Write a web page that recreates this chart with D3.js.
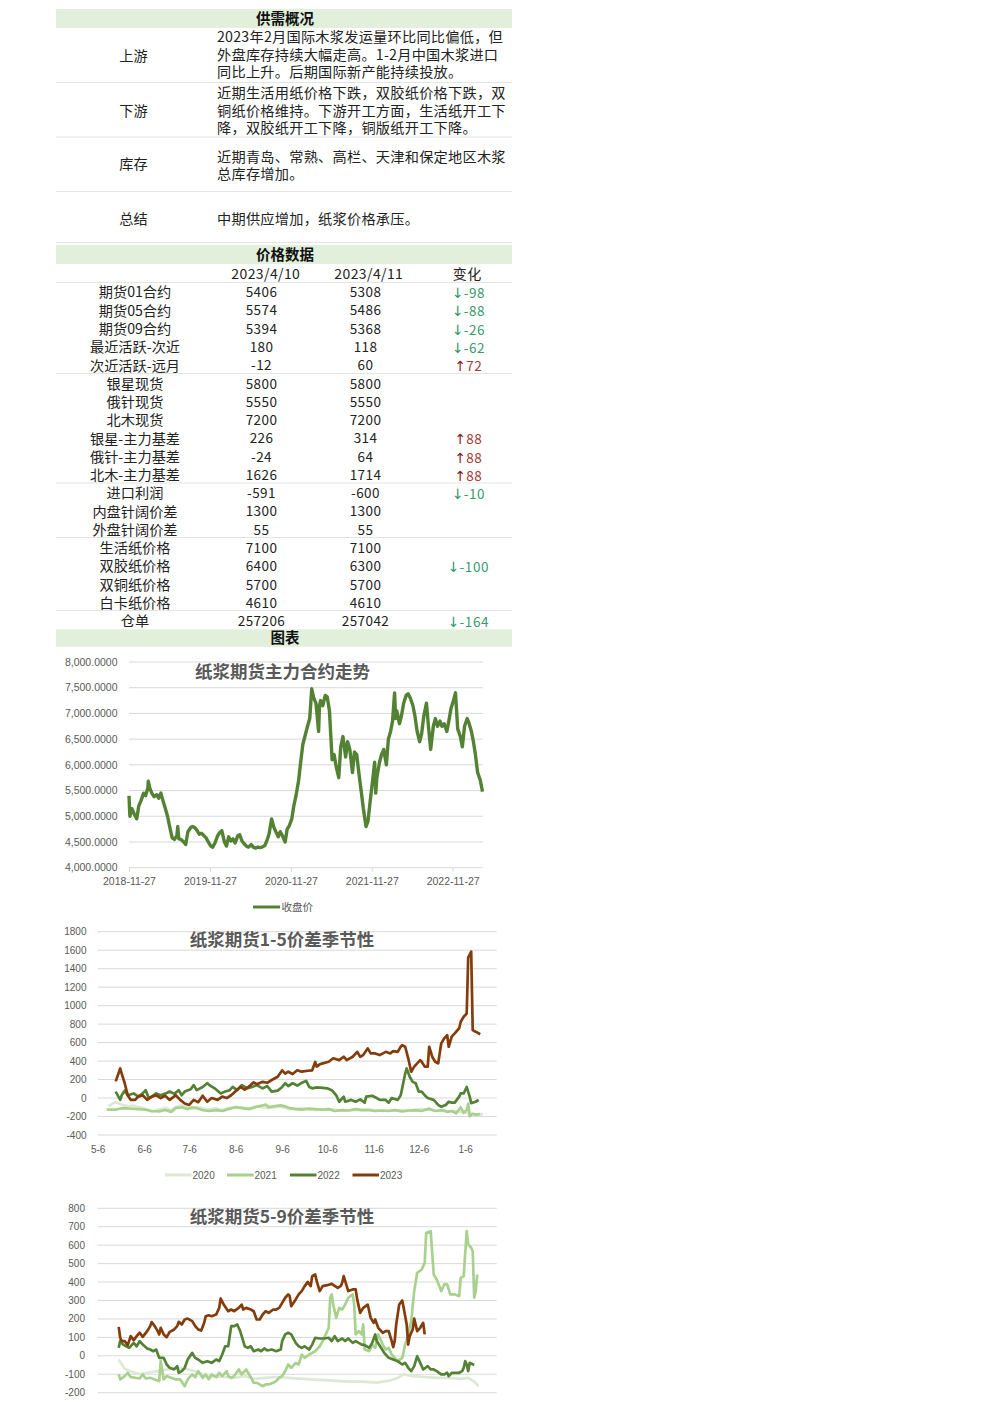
<!DOCTYPE html>
<html><head><meta charset="utf-8">
<script src="https://cdn.jsdelivr.net/npm/d3@7"></script>
<style>body{margin:0;background:#fff}svg{display:block}</style>
</head><body>
<script>
// ---------- DATA ----------
const supplyLabels = ["上游","下游","库存","总结"];
const supplyTexts = [
  ["2023年2月国际木浆发运量环比同比偏低，但","外盘库存持续大幅走高。1-2月中国木浆进口","同比上升。后期国际新产能持续投放。"],
  ["近期生活用纸价格下跌，双胶纸价格下跌，双","铜纸价格维持。下游开工方面，生活纸开工下","降，双胶纸开工下降，铜版纸开工下降。"],
  ["近期青岛、常熟、高栏、天津和保定地区木浆","总库存增加。"],
  ["中期供应增加，纸浆价格承压。"]
];
const priceHeaders = ["2023/4/10","2023/4/11","变化"];
const priceLabels = ["期货01合约","期货05合约","期货09合约","最近活跃-次近","次近活跃-远月","银星现货","俄针现货","北木现货","银星-主力基差","俄针-主力基差","北木-主力基差","进口利润","内盘针阔价差","外盘针阔价差","生活纸价格","双胶纸价格","双铜纸价格","白卡纸价格","仓单"];
const priceDay1 = [5406,5574,5394,180,-12,5800,5550,7200,226,-24,1626,-591,1300,55,7100,6400,5700,4610,257206];
const priceDay2 = [5308,5486,5368,118,60,5800,5550,7200,314,64,1714,-600,1300,55,7100,6300,5700,4610,257042];
const priceChange = [-98,-88,-26,-62,72,null,null,null,88,88,88,-10,null,null,null,-100,null,null,-164];

const mainTitle = "纸浆期货主力合约走势";
const mainLegend = "收盘价";
const mainTicks = ["2018-11-27","2019-11-27","2020-11-27","2021-11-27","2022-11-27"];
const mainSeries = [
["2018-11-27",5400],["2018-12-01",5000],["2018-12-10",5150],["2018-12-20",5050],["2019-01-01",4950],["2019-01-10",5200],["2019-01-20",5300],["2019-02-01",5450],["2019-02-10",5400],["2019-02-20",5550],["2019-02-22",5680],["2019-03-01",5550],["2019-03-10",5450],["2019-03-20",5380],["2019-04-01",5420],["2019-04-10",5350],["2019-04-20",5450],["2019-05-01",5280],["2019-05-10",5150],["2019-05-20",5000],["2019-06-01",4750],["2019-06-10",4580],["2019-06-20",4550],["2019-07-01",4620],["2019-07-05",4800],["2019-07-10",4560],["2019-07-20",4550],["2019-08-01",4500],["2019-08-10",4450],["2019-08-20",4700],["2019-09-01",4780],["2019-09-10",4800],["2019-09-20",4780],["2019-10-01",4720],["2019-10-10",4650],["2019-10-20",4670],["2019-11-01",4620],["2019-11-10",4580],["2019-11-20",4500],["2019-12-01",4420],["2019-12-10",4400],["2019-12-20",4480],["2020-01-01",4620],["2020-01-10",4680],["2020-01-20",4720],["2020-02-01",4500],["2020-02-10",4420],["2020-02-20",4600],["2020-03-01",4520],["2020-03-10",4560],["2020-03-20",4480],["2020-04-01",4620],["2020-04-10",4640],["2020-04-20",4520],["2020-05-01",4460],["2020-05-10",4420],["2020-05-20",4400],["2020-06-01",4450],["2020-06-10",4400],["2020-06-20",4380],["2020-07-01",4400],["2020-07-10",4390],["2020-07-20",4400],["2020-08-01",4430],["2020-08-10",4520],["2020-08-20",4650],["2020-09-01",4950],["2020-09-10",4800],["2020-09-20",4700],["2020-10-01",4600],["2020-10-10",4700],["2020-10-20",4620],["2020-11-01",4500],["2020-11-10",4750],["2020-11-20",4820],["2020-12-01",4950],["2020-12-10",5200],["2020-12-20",5400],["2021-01-01",5700],["2021-01-10",6050],["2021-01-20",6400],["2021-02-01",6600],["2021-02-10",6750],["2021-02-20",6900],["2021-03-01",7480],["2021-03-05",7400],["2021-03-10",7300],["2021-03-20",7200],["2021-04-01",6650],["2021-04-05",7150],["2021-04-10",7250],["2021-04-20",7150],["2021-05-01",7350],["2021-05-10",7320],["2021-05-20",7050],["2021-06-01",6100],["2021-06-10",6200],["2021-06-20",5950],["2021-07-01",5750],["2021-07-10",6350],["2021-07-20",6550],["2021-08-01",6150],["2021-08-10",6450],["2021-08-20",6300],["2021-09-01",5850],["2021-09-10",6250],["2021-09-20",6200],["2021-10-01",5800],["2021-10-10",5500],["2021-10-20",5150],["2021-11-01",4800],["2021-11-10",4900],["2021-11-20",5300],["2021-12-01",5700],["2021-12-10",6050],["2021-12-15",5450],["2021-12-20",5750],["2022-01-01",6050],["2022-01-10",6200],["2022-01-20",6300],["2022-02-01",6000],["2022-02-10",6500],["2022-02-20",6650],["2022-03-01",6850],["2022-03-10",7400],["2022-03-15",6900],["2022-03-20",7050],["2022-04-01",6800],["2022-04-10",6950],["2022-04-20",7200],["2022-05-01",7350],["2022-05-10",7380],["2022-05-20",7300],["2022-06-01",7150],["2022-06-10",6950],["2022-06-20",6650],["2022-07-01",6450],["2022-07-10",6600],["2022-07-20",6950],["2022-08-01",7200],["2022-08-10",6750],["2022-08-20",6300],["2022-09-01",6750],["2022-09-10",6900],["2022-09-20",6750],["2022-10-01",6850],["2022-10-10",6750],["2022-10-20",6800],["2022-11-01",6650],["2022-11-10",6850],["2022-11-20",7100],["2022-12-01",7250],["2022-12-10",7400],["2022-12-20",6700],["2023-01-01",6550],["2023-01-10",6350],["2023-01-20",6750],["2023-02-01",6900],["2023-02-10",6800],["2023-02-20",6650],["2023-03-01",6450],["2023-03-10",6200],["2023-03-20",5850],["2023-04-01",5700],["2023-04-11",5480]
];

const seasonYears = ["2020","2021","2022","2023"];
const seasonTicks = ["05-06","06-06","07-06","08-06","09-06","10-06","11-06","12-06","01-06"];
const spreadTitle15 = "纸浆期货1-5价差季节性";
const spreadTitle59 = "纸浆期货5-9价差季节性";

const s15_2020 = [["05-13",-90],["05-16",-60],["05-18",-45],["05-22",-70],["05-26",-90],["05-30",-80],["06-03",-100],["06-07",-120],["06-11",-150],["06-16",-125],["06-20",-105],["06-24",-130],["06-27",-95],["07-01",-80],["07-05",-100],["07-08",-120],["07-11",-95],["07-15",-110],["07-19",-125],["07-24",-110],["07-28",-130],["08-01",-110],["08-06",-95],["08-10",-100],["08-15",-115],["08-19",-90],["08-24",-100],["08-28",-110],["08-31",-100],["09-05",-95],["09-11",-120],["09-19",-110],["09-28",-130],["10-07",-120],["10-16",-135],["10-25",-130],["11-03",-125],["11-12",-140],["11-20",-130],["11-29",-140],["12-08",-120],["12-17",-135],["12-25",-140],["01-03",-150],["01-09",-165],["01-13",-180],["01-18",-175]];
const s15_2021 = [["05-12",-125],["05-18",-125],["05-22",-110],["05-28",-115],["06-02",-120],["06-07",-125],["06-11",-140],["06-16",-145],["06-20",-130],["06-24",-150],["06-27",-110],["07-01",-100],["07-05",-120],["07-08",-100],["07-11",-110],["07-15",-130],["07-19",-140],["07-24",-130],["07-28",-140],["08-01",-120],["08-06",-100],["08-10",-110],["08-15",-120],["08-19",-100],["08-24",-80],["08-26",-70],["08-28",-100],["08-31",-90],["09-05",-80],["09-08",-90],["09-11",-110],["09-15",-120],["09-19",-125],["09-24",-115],["09-28",-120],["10-03",-125],["10-07",-120],["10-11",-140],["10-16",-130],["10-20",-135],["10-25",-120],["10-29",-130],["11-03",-130],["11-07",-140],["11-12",-135],["11-16",-140],["11-20",-130],["11-25",-145],["11-29",-135],["12-04",-130],["12-08",-140],["12-13",-115],["12-17",-140],["12-22",-130],["12-25",-150],["12-28",-140],["12-31",-165],["01-03",-100],["01-05",-160],["01-07",-130],["01-08",-60],["01-09",-195],["01-11",-170],["01-13",-180],["01-16",-175]];
const s15_2022 = [["05-18",70],["05-21",-20],["05-22",30],["05-24",80],["05-26",30],["05-30",50],["06-02",15],["06-05",50],["06-07",85],["06-09",0],["06-11",15],["06-14",50],["06-17",30],["06-21",55],["06-23",70],["06-26",45],["06-29",85],["07-01",30],["07-03",70],["07-07",95],["07-09",140],["07-11",85],["07-15",120],["07-18",160],["07-20",135],["07-23",105],["07-27",50],["07-30",70],["08-02",85],["08-04",120],["08-07",85],["08-10",140],["08-14",105],["08-17",120],["08-20",140],["08-24",105],["08-27",130],["08-30",70],["09-03",80],["09-06",120],["09-08",160],["09-10",130],["09-13",160],["09-16",135],["09-19",165],["09-22",185],["09-24",120],["09-26",105],["09-29",115],["10-03",110],["10-06",105],["10-09",85],["10-12",30],["10-14",-40],["10-17",15],["10-18",-40],["10-22",-20],["10-25",-40],["10-28",-15],["10-31",-50],["11-01",15],["11-05",25],["11-08",0],["11-10",-20],["11-14",-20],["11-16",-50],["11-18",0],["11-22",-20],["11-24",30],["11-25",105],["11-27",265],["11-28",320],["11-30",230],["12-02",175],["12-04",160],["12-06",70],["12-08",70],["12-10",30],["12-12",0],["12-16",-20],["12-19",-75],["12-21",-95],["12-24",-75],["12-26",-40],["12-28",-50],["12-30",-50],["01-02",15],["01-03",50],["01-05",50],["01-07",120],["01-09",15],["01-10",-55],["01-13",-40],["01-15",-20]];
const s15_2023 = [["05-18",180],["05-21",320],["05-22",265],["05-24",160],["05-26",30],["05-28",-20],["05-31",-20],["06-02",15],["06-05",30],["06-08",-20],["06-11",15],["06-14",30],["06-17",0],["06-20",25],["06-23",-20],["06-27",30],["06-30",-20],["07-03",-60],["07-06",-75],["07-09",-20],["07-12",-45],["07-15",25],["07-18",-40],["07-21",0],["07-25",-20],["07-28",15],["07-31",0],["08-03",30],["08-07",90],["08-09",120],["08-12",90],["08-16",140],["08-18",170],["08-20",150],["08-24",175],["08-27",165],["08-30",195],["09-03",230],["09-06",300],["09-08",265],["09-10",285],["09-13",260],["09-16",300],["09-19",285],["09-23",295],["09-26",300],["09-28",390],["09-29",340],["10-01",365],["10-03",375],["10-07",393],["10-10",430],["10-14",410],["10-17",447],["10-19",410],["10-23",447],["10-26",500],["10-28",447],["10-30",465],["11-02",537],["11-04",483],["11-07",483],["11-10",465],["11-14",500],["11-17",483],["11-19",508],["11-22",500],["11-24",555],["11-25",573],["11-27",555],["11-29",430],["12-01",285],["12-03",340],["12-05",375],["12-07",410],["12-08",393],["12-10",340],["12-12",340],["12-13",555],["12-15",447],["12-17",393],["12-19",375],["12-21",590],["12-23",645],["12-25",680],["12-26",555],["12-28",665],["12-30",700],["01-02",755],["01-03",825],["01-05",880],["01-07",915],["01-08",1520],["01-10",1585],["01-11",735],["01-13",718],["01-16",690]];

const s59_2020 = [["05-20",-20],["05-24",-70],["05-28",-85],["06-03",-100],["06-10",-90],["06-17",-80],["06-24",-70],["07-01",-65],["07-08",-80],["07-15",-100],["07-22",-110],["07-29",-115],["08-05",-120],["08-12",-110],["08-19",-125],["08-26",-120],["09-02",-115],["09-10",-120],["09-20",-125],["09-30",-130],["10-10",-135],["10-20",-140],["10-30",-140],["11-08",-145],["11-16",-135],["11-22",-120],["11-26",-100],["12-02",-110],["12-10",-115],["12-18",-120],["12-26",-120],["01-03",-125],["01-08",-120],["01-12",-140],["01-15",-165]];
const s59_2021 = [["05-20",-101],["05-21",-128],["05-24",-110],["05-26",-92],["05-28",-116],["05-31",-119],["06-03",-123],["06-05",-101],["06-07",-123],["06-10",-119],["06-13",-128],["06-16",-137],["06-17",-29],["06-19",-128],["06-21",-110],["06-23",-116],["06-27",-128],["06-30",-128],["07-03",-165],["07-05",-128],["07-08",-101],["07-10",-116],["07-12",-83],["07-15",-119],["07-17",-101],["07-19",-128],["07-21",-101],["07-24",-116],["07-26",-92],["07-28",-110],["07-31",-83],["08-01",-110],["08-03",-119],["08-05",-110],["08-08",-74],["08-10",-101],["08-13",-74],["08-16",-116],["08-18",-146],["08-20",-146],["08-22",-155],["08-24",-165],["08-26",-155],["08-28",-155],["08-31",-146],["09-02",-137],["09-04",-119],["09-06",-110],["09-08",-83],["09-10",-47],["09-12",-65],["09-15",-38],["09-17",-47],["09-19",7],["09-21",-11],["09-24",7],["09-26",16],["09-28",25],["10-01",52],["10-03",80],["10-05",116],["10-07",152],["10-08",315],["10-09",333],["10-10",278],["10-12",206],["10-14",260],["10-16",251],["10-18",278],["10-20",315],["10-23",333],["10-24",278],["10-25",116],["10-27",134],["10-29",116],["10-30",170],["10-31",34],["11-03",25],["11-05",61],["11-07",43],["11-09",116],["11-12",61],["11-14",34],["11-16",43],["11-18",7],["11-20",-11],["11-22",-29],["11-25",-11],["11-27",61],["11-29",116],["12-01",188],["12-03",351],["12-05",450],["12-08",468],["12-10",504],["12-11",667],["12-14",676],["12-16",441],["12-18",414],["12-21",351],["12-23",387],["12-25",387],["12-27",333],["12-30",333],["01-02",324],["01-03",423],["01-05",432],["01-07",676],["01-08",604],["01-10",586],["01-11",568],["01-12",315],["01-13",351],["01-14",441]];
const s59_2022 = [["05-20",43],["05-21",80],["05-23",61],["05-25",52],["05-27",43],["05-30",70],["06-01",52],["06-03",80],["06-05",61],["06-08",40],["06-10",34],["06-12",25],["06-14",34],["06-16",-11],["06-19",-11],["06-21",-47],["06-23",-65],["06-26",-74],["06-28",-56],["06-29",-92],["07-01",-83],["07-03",-65],["07-05",-20],["07-08",16],["07-10",-11],["07-12",-20],["07-15",-38],["07-18",-29],["07-21",-38],["07-24",-20],["07-26",-29],["07-28",7],["07-30",52],["08-01",52],["08-03",161],["08-05",161],["08-07",170],["08-09",134],["08-12",52],["08-14",43],["08-16",52],["08-18",25],["08-21",34],["08-23",25],["08-25",40],["08-27",29],["08-30",34],["09-02",25],["09-05",34],["09-06",80],["09-08",116],["09-10",125],["09-12",116],["09-15",70],["09-17",52],["09-19",43],["09-21",52],["09-24",34],["09-26",61],["09-28",98],["10-01",94],["10-04",94],["10-07",98],["10-09",80],["10-11",107],["10-13",80],["10-16",94],["10-18",80],["10-20",94],["10-23",70],["10-25",80],["10-27",70],["10-29",61],["10-31",58],["11-03",43],["11-05",70],["11-07",116],["11-08",80],["11-11",43],["11-13",16],["11-16",-11],["11-19",-20],["11-22",-29],["11-25",-47],["11-27",-38],["11-29",-65],["12-01",-83],["12-03",-56],["12-05",-2],["12-07",-38],["12-09",-74],["12-12",-56],["12-14",-74],["12-16",-74],["12-18",-83],["12-21",-101],["12-23",-101],["12-25",-92],["12-26",-110],["12-28",-92],["12-30",-92],["01-02",-92],["01-04",-83],["01-05",-65],["01-06",-29],["01-07",-47],["01-08",-83],["01-09",-38],["01-12",-50]];
const s59_2023 = [["05-20",157],["05-21",98],["05-22",80],["05-24",80],["05-26",58],["05-28",107],["05-30",85],["06-01",107],["06-03",125],["06-05",103],["06-08",134],["06-10",161],["06-11",183],["06-13",161],["06-15",134],["06-16",116],["06-17",152],["06-19",116],["06-21",101],["06-23",130],["06-26",143],["06-28",161],["06-29",184],["07-01",170],["07-03",197],["07-05",202],["07-08",188],["07-10",161],["07-12",143],["07-14",137],["07-16",179],["07-17",215],["07-19",220],["07-21",215],["07-24",224],["07-26",260],["07-27",311],["07-29",278],["08-01",242],["08-03",251],["08-05",242],["08-08",260],["08-10",278],["08-11",251],["08-13",260],["08-16",251],["08-18",242],["08-20",197],["08-22",197],["08-24",224],["08-26",242],["08-28",233],["08-31",251],["09-02",251],["09-04",260],["09-06",287],["09-08",315],["09-10",333],["09-11",324],["09-12",269],["09-15",306],["09-17",333],["09-19",351],["09-21",378],["09-23",401],["09-25",378],["09-26",432],["09-28",441],["09-29",405],["10-01",351],["10-03",378],["10-06",383],["10-09",390],["10-13",369],["10-15",378],["10-16",396],["10-17",432],["10-19",378],["10-20",351],["10-23",360],["10-25",360],["10-26",306],["10-28",233],["10-30",260],["11-02",278],["11-04",206],["11-06",179],["11-07",197],["11-09",152],["11-12",125],["11-14",134],["11-16",134],["11-18",80],["11-19",47],["11-20",80],["11-21",170],["11-23",278],["11-25",300],["11-26",260],["11-28",170],["11-29",61],["11-30",107],["12-02",143],["12-03",202],["12-05",134],["12-07",152],["12-09",179],["12-10",116]];

// ---------- STYLE ----------
const CJK = "'Noto Sans CJK SC','Noto Sans',sans-serif";
const NUM = "'Liberation Sans',Arial,sans-serif";
const barFill = "#e2efda";
const sepColor = "#e4e4e4";
const gridColor = "#d9d9d9";
const axisText = "#595959";
const seasonColors = {"2020":"#dde9d4","2021":"#a9d18e","2022":"#548235","2023":"#843c0c"};

const svg = d3.select("body").append("svg").attr("width",992).attr("height",1403);
svg.append("rect").attr("width",992).attr("height",1403).attr("fill","#fff");

const L = 56, R = 512;
function bar(y,h,label){
  svg.append("rect").attr("x",L).attr("y",y).attr("width",R-L).attr("height",h).attr("fill",barFill);
  svg.append("text").attr("x",285).attr("y",y+h/2).attr("dy","0.36em").attr("text-anchor","middle")
    .attr("font-family",CJK).attr("font-weight","bold").attr("font-size",14.5).attr("fill","#111").text(label);
}
function sep(y){ svg.append("line").attr("x1",L).attr("x2",R).attr("y1",y).attr("y2",y).attr("stroke",sepColor).attr("stroke-width",1); }

// ---------- SUPPLY TABLE ----------
bar(9,19,"供需概况");
const supplyLabelY = [56,111,164.3,219.3];
const supplyFirstLineY = [37.3,93.3,156.7,219.3];
supplyLabels.forEach((lab,i)=>{
  svg.append("text").attr("x",133.5).attr("y",supplyLabelY[i]).attr("dy","0.36em").attr("text-anchor","middle")
    .attr("font-family",CJK).attr("font-size",14.2).attr("fill","#222").text(lab);
  supplyTexts[i].forEach((ln,j)=>{
    svg.append("text").attr("x",217).attr("y",supplyFirstLineY[i]+j*17.2).attr("dy","0.36em")
      .attr("font-family",CJK).attr("font-size",14.2).attr("letter-spacing",0.25).attr("fill","#222").text(ln);
  });
});
[82.5,137,191.5,242.5].forEach(sep);

// ---------- PRICE TABLE ----------
bar(245,19,"价格数据");
const headX = [265.8,368.8,467.2];
priceHeaders.forEach((h,i)=>{
  svg.append("text").attr("x",headX[i]).attr("y",274.3).attr("dy","0.36em").attr("text-anchor","middle")
    .attr("font-family",CJK).attr("font-size",14).attr("letter-spacing",0.4).attr("fill","#222").text(h);
});
sep(282.5);
const rowY = d3.scaleLinear().domain([0,18]).range([292.3,621.2]);
priceLabels.forEach((lab,i)=>{
  const y = rowY(i);
  svg.append("text").attr("x",135).attr("y",y).attr("dy","0.36em").attr("text-anchor","middle")
    .attr("font-family",CJK).attr("font-size",14.2).attr("fill","#222").text(lab);
  svg.append("text").attr("x",261.5).attr("y",y).attr("dy","0.36em").attr("text-anchor","middle")
    .attr("font-family",CJK).attr("font-size",13.5).attr("letter-spacing",0.4).attr("fill","#222").text(priceDay1[i]);
  svg.append("text").attr("x",365.5).attr("y",y).attr("dy","0.36em").attr("text-anchor","middle")
    .attr("font-family",CJK).attr("font-size",13.5).attr("letter-spacing",0.4).attr("fill","#222").text(priceDay2[i]);
  const c = priceChange[i];
  if(c!==null){
    const up = c>0;
    const t = svg.append("text").attr("x",468.5).attr("y",y).attr("dy","0.36em").attr("text-anchor","middle");
    t.append("tspan").attr("font-family","'DejaVu Sans',sans-serif").attr("font-size",14)
      .attr("fill", up?"#8b1a1a":"#2f9467").text(up?"↑":"↓");
    t.append("tspan").attr("font-family",CJK).attr("font-size",13.5).attr("letter-spacing",0.6)
      .attr("fill", up?"#a33a3a":"#3a9a6e").text(String(c));
  }
});
[373.5,483,537.5,610.5].forEach(sep);

bar(629.3,17.5,"图表");

// ---------- CHART 1 ----------
const parseD = d3.timeParse("%Y-%m-%d");
const mX = d3.scaleTime().domain([parseD("2018-11-27"),parseD("2023-04-11")]).range([129,482.5]);
const mY = d3.scaleLinear().domain([4000,8000]).range([867.7,662]);
const g1 = svg.append("g");
g1.selectAll("line.grid").data(d3.range(4000,8001,500)).join("line")
  .attr("x1",129).attr("x2",483).attr("y1",d=>mY(d)).attr("y2",d=>mY(d)).attr("stroke",gridColor);
g1.selectAll("text.yl").data(d3.range(4000,8001,500)).join("text")
  .attr("x",117.5).attr("y",d=>mY(d)).attr("dy","0.35em").attr("text-anchor","end")
  .attr("font-family",NUM).attr("font-size",10.5).attr("fill",axisText).text(d3.format(",.4f"));
const xAx1 = d3.axisBottom(mX).tickValues(mainTicks.map(parseD)).tickFormat(d3.timeFormat("%Y-%m-%d")).tickSize(4).tickPadding(6);
const ax1 = g1.append("g").attr("transform","translate(0,867.7)").call(xAx1);
ax1.select(".domain").remove();
ax1.selectAll("line").attr("stroke",gridColor);
ax1.selectAll("text").attr("font-family",NUM).attr("font-size",10.5).attr("fill",axisText);
g1.append("path").datum(mainSeries).attr("fill","none").attr("stroke","#548235").attr("stroke-width",3.4)
  .attr("stroke-linejoin","round")
  .attr("d",d3.line().x(d=>mX(parseD(d[0]))).y(d=>mY(d[1])));
g1.append("text").attr("x",282.5).attr("y",672).attr("dy","0.36em").attr("text-anchor","middle")
  .attr("font-family",CJK).attr("font-weight","bold").attr("font-size",17.5).attr("fill","#595959").text(mainTitle);
g1.append("line").attr("x1",253).attr("x2",280).attr("y1",907).attr("y2",907).attr("stroke","#548235").attr("stroke-width",3);
g1.append("text").attr("x",281.5).attr("y",907).attr("dy","0.36em").attr("font-family",CJK).attr("font-size",10.5).attr("fill",axisText).text(mainLegend);

// ---------- SEASONAL CHARTS ----------
function sd(s){ const [m,d]=s.split("-").map(Number); return new Date(m>=5?2000:2001, m-1, d); }
const sX = d3.scaleTime().domain([sd("05-06"), sd("01-27")]).range([97.7,496.7]);

function seasonal(cfg){
  const g = svg.append("g");
  const y = d3.scaleLinear().domain(cfg.domain).range(cfg.range);
  const ticks = d3.range(cfg.domain[0], cfg.domain[1]+1, cfg.step);
  g.selectAll("line.grid").data(ticks).join("line")
    .attr("x1",97.7).attr("x2",496.7).attr("y1",d=>y(d)).attr("y2",d=>y(d)).attr("stroke",gridColor);
  g.selectAll("text.yl").data(ticks).join("text")
    .attr("x",cfg.labelX).attr("y",d=>y(d)).attr("dy","0.35em").attr("text-anchor","end")
    .attr("font-family",NUM).attr("font-size",10).attr("fill",axisText).text(d=>d);
  if(cfg.showX){
    const ax = g.append("g").attr("transform",`translate(0,${cfg.range[0]})`)
      .call(d3.axisBottom(sX).tickValues(seasonTicks.map(sd)).tickFormat(d3.timeFormat("%-m-%-d")).tickSize(0).tickPadding(11));
    ax.select(".domain").remove();
    ax.selectAll("text").attr("font-family",NUM).attr("font-size",10).attr("fill",axisText);
  }
  const line = d3.line().x(d=>sX(sd(d[0]))).y(d=>y(d[1]));
  cfg.series.forEach((s,i)=>{
    g.append("path").datum(s).attr("fill","none").attr("stroke",seasonColors[seasonYears[i]])
      .attr("stroke-width",2.7).attr("stroke-linejoin","round").attr("d",line);
  });
  g.append("text").attr("x",282).attr("y",cfg.titleY).attr("dy","0.36em").attr("text-anchor","middle")
    .attr("font-family",CJK).attr("font-weight","bold").attr("font-size",17.5).attr("fill","#595959").text(cfg.title);
  if(cfg.legendY){
    const lx = [165,227,290,352.5];
    seasonYears.forEach((yr,i)=>{
      g.append("line").attr("x1",lx[i]).attr("x2",lx[i]+26.5).attr("y1",cfg.legendY).attr("y2",cfg.legendY)
        .attr("stroke",seasonColors[yr]).attr("stroke-width",3);
      g.append("text").attr("x",lx[i]+27.5).attr("y",cfg.legendY).attr("dy","0.35em")
        .attr("font-family",NUM).attr("font-size",10).attr("fill",axisText).text(yr);
    });
  }
}
seasonal({domain:[-400,1800],step:200,range:[1135,931.7],labelX:86.5,title:spreadTitle15,titleY:940,showX:true,legendY:1175,
  series:[s15_2020,s15_2021,s15_2022,s15_2023]});
seasonal({domain:[-200,800],step:100,range:[1392.7,1208.3],labelX:85,title:spreadTitle59,titleY:1216.5,showX:false,legendY:null,
  series:[s59_2020,s59_2021,s59_2022,s59_2023]});
</script>
</body></html>
